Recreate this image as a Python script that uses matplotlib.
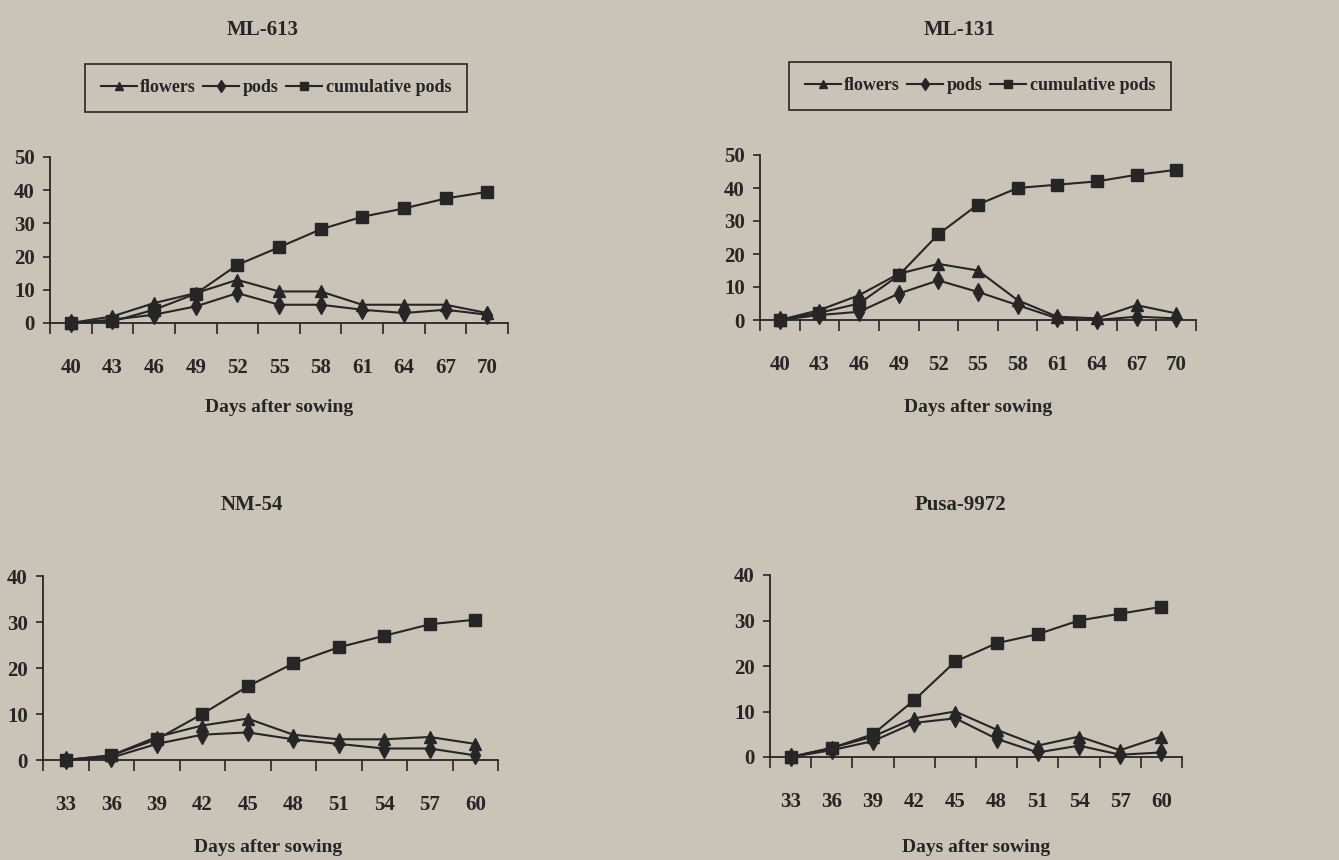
import matplotlib
matplotlib.use('Agg')
import matplotlib.pyplot as plt
import numpy as np

W, H = 1339, 860
BG = '#c9c3b8'
INK = '#262626'

# days after sowing
days_ml = [40, 43, 46, 49, 52, 55, 58, 61, 64, 67, 70]
days_nm = [33, 36, 39, 42, 45, 48, 51, 54, 57, 60]

# ML-613
ml613_flowers = [0, 2, 6, 9, 13, 9.5, 9.5, 5.5, 5.5, 5.5, 3]
ml613_pods = [0, 1, 2.5, 5, 9, 5.5, 5.5, 4, 3, 4, 2.5]
ml613_cum = [0, 0.5, 4, 8.8, 17.5, 22.8, 28.2, 32, 34.5, 37.5, 39.5]

# ML-131
ml131_flowers = [0, 3, 7.5, 14, 17, 15, 6, 1, 0.5, 4.5, 2]
ml131_pods = [0, 1.5, 2.5, 8, 12, 8.5, 4.5, 0.5, 0, 1, 0.5]
ml131_cum = [0, 2.2, 5, 13.5, 26, 35, 40, 41, 42, 44, 45.5]

# NM-54
nm54_flowers = [0, 1, 5, 7.5, 9, 5.5, 4.5, 4.5, 5, 3.5]
nm54_pods = [0, 0.5, 3.5, 5.5, 6, 4.5, 3.5, 2.5, 2.5, 1]
nm54_cum = [0, 1, 4.5, 10, 16, 21, 24.5, 27, 29.5, 30.5]

# Pusa-9972
pusa_flowers = [0, 2, 4.5, 8.5, 10, 6, 2.5, 4.5, 1.5, 4.5]
pusa_pods = [0, 1.5, 3.5, 7.5, 8.5, 4, 1, 2.5, 0.5, 1]
pusa_cum = [0, 2, 5, 12.5, 21, 25, 27, 30, 31.5, 33]

plt.rcParams['font.family'] = ['Liberation Serif', 'DejaVu Serif']
plt.rcParams['font.weight'] = 'bold'

fig = plt.figure(figsize=(W / 100, H / 100), dpi=100, facecolor=BG)


def px(left, right, zero_y, top_y):
    # pixel box -> figure fraction
    return [left / W, 1 - zero_y / H, (right - left) / W, (zero_y - top_y) / H]


def draw_panel(box, days, flowers, pods, cum, ymax, title, title_xy, xlabel_xy, legend_xy=None):
    ax = fig.add_axes(px(*box))
    ax.set_facecolor('none')
    n = len(days)
    x = np.arange(n)
    kw = dict(color=INK, lw=1.5, clip_on=False, zorder=3)
    l1, = ax.plot(x, flowers, marker='^', ms=9, label='flowers', **kw)
    l2, = ax.plot(x, pods, marker='d', ms=9, label='pods', **kw)
    l3, = ax.plot(x, cum, marker='s', ms=8.5, label='cumulative pods', **kw)

    ax.set_xlim(-0.5, n - 0.5)
    ax.set_ylim(0, ymax)
    ax.set_yticks(np.arange(0, ymax + 1, 10))
    ax.set_xticks(np.arange(-0.5, n), labels=[])
    ax.set_xticks(x, labels=[str(d) for d in days], minor=True)
    ax.tick_params(axis='x', which='major', direction='out', length=8, width=1.2, color=INK)
    ax.tick_params(axis='x', which='minor', length=0, pad=25, labelsize=15, labelcolor=INK)
    ax.tick_params(axis='y', direction='out', length=5, width=1.2, color=INK, pad=6,
                   labelsize=15, labelcolor=INK)
    for s in ['top', 'right']:
        ax.spines[s].set_visible(False)
    for s in ['left', 'bottom']:
        ax.spines[s].set_color(INK)
        ax.spines[s].set_linewidth(1.3)

    fig.text(title_xy[0] / W, 1 - title_xy[1] / H, title, ha='center', va='center',
             fontsize=15, fontweight='bold', color=INK)
    fig.text(xlabel_xy[0] / W, 1 - xlabel_xy[1] / H, 'Days after sowing', ha='center',
             va='center', fontsize=14, fontweight='bold', color=INK)

    if legend_xy is not None:
        leg = ax.legend(handles=[l1, l2, l3], loc='center', ncol=3,
                        bbox_to_anchor=(legend_xy[0] / W, 1 - legend_xy[1] / H),
                        bbox_transform=fig.transFigure, fancybox=False, frameon=True,
                        edgecolor=INK, facecolor='none', framealpha=1,
                        prop={'size': 13, 'weight': 'bold'}, handlelength=2.0,
                        handletextpad=0.2, columnspacing=0.4, borderpad=0.85,
                        markerscale=0.7)
        leg.get_frame().set_linewidth(1.2)
        for t in leg.get_texts():
            t.set_color(INK)
    return ax


draw_panel((50, 508, 323, 157), days_ml, ml613_flowers, ml613_pods, ml613_cum, 50,
           'ML-613', (263, 30), (279, 408), legend_xy=(276, 88))
draw_panel((760, 1196, 320, 155), days_ml, ml131_flowers, ml131_pods, ml131_cum, 50,
           'ML-131', (960, 30), (978, 408), legend_xy=(980, 86))
draw_panel((43, 498, 760, 576), days_nm, nm54_flowers, nm54_pods, nm54_cum, 40,
           'NM-54', (252, 505), (268, 848))
draw_panel((770, 1182, 757, 575), days_nm, pusa_flowers, pusa_pods, pusa_cum, 40,
           'Pusa-9972', (960, 505), (976, 848))

fig.savefig('out.png', dpi=100, facecolor=BG)
